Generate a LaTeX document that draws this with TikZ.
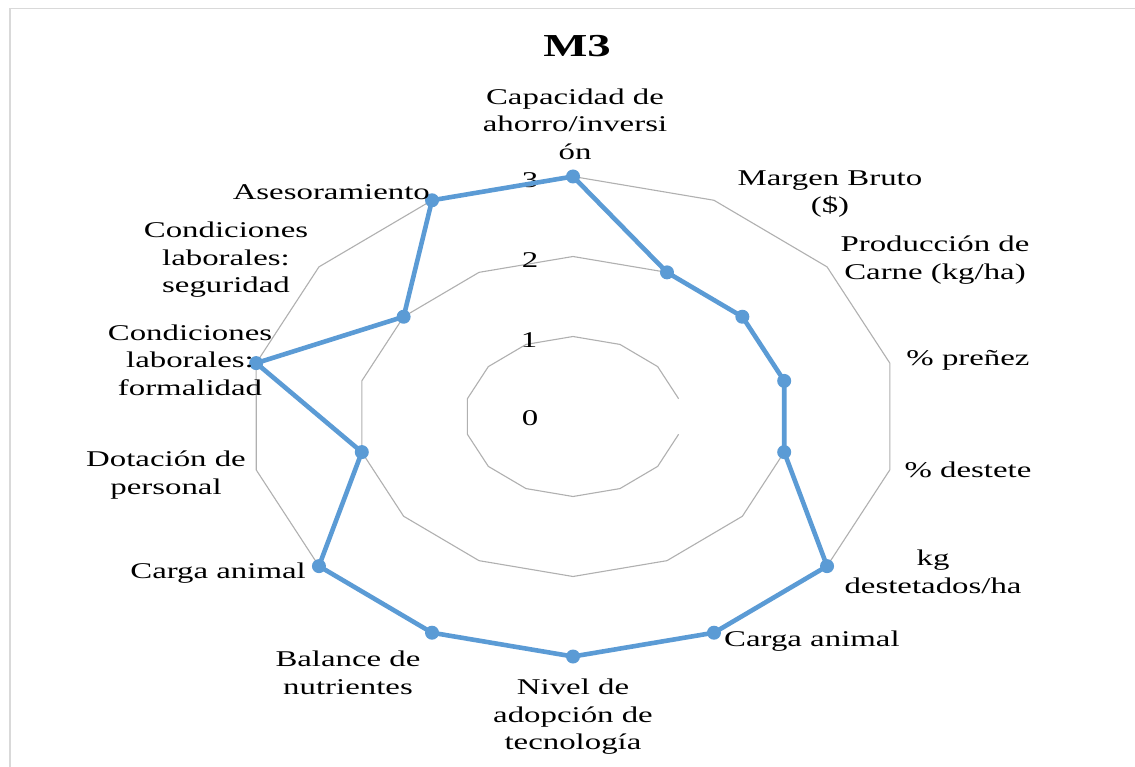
\documentclass[tikz,border=0pt]{standalone}
\usepackage{fontspec}
\setmainfont{Liberation Serif}[FakeStretch=1.46]
\definecolor{blueS}{HTML}{5B9BD5}
\definecolor{frameC}{HTML}{D9D9D9}
\definecolor{gridC}{HTML}{B0B0B0}
\begin{document}
\begin{tikzpicture}[x=1pt,y=-1pt,
  lbl/.style={font=\fontsize{22.5}{27.5}\selectfont, align=center, inner sep=0pt, text=black},
  ttl/.style={font=\fontsize{32}{36}\selectfont\bfseries, inner sep=0pt},
  gridline/.style={draw=gridC, line width=1.1pt, line join=round},
  series/.style={draw=blueS, line width=4.6pt, line join=round},
  dot/.style={circle, fill=blueS, inner sep=0pt, minimum size=14pt},
  framel/.style={draw=frameC, line width=1.6pt}]
\useasboundingbox (0,0) rectangle (1135,767);
\fill[white] (0,0) rectangle (1135,767);
\draw[framel] (10,767) -- (10,8.5) -- (1135,8.5);
\def\cx{573}\def\cy{416.5}\def\sx{1.354}
% grid rings
\draw[gridline] plot[samples at={4,...,17}, variable=\t]
  ({\cx+\sx*80*sin(\t*360/14)},{\cy-80*cos(\t*360/14)});
\foreach \r in {2,3}{
  \draw[gridline] plot[samples at={0,...,13}, variable=\t]
    ({\cx+\sx*80*\r*sin(\t*360/14)},{\cy-80*\r*cos(\t*360/14)}) -- cycle;
}
% tick labels
\node[lbl] (t3) at (530,180) {3};
\node[lbl] (t2) at (530,260) {2};
\node[lbl] (t1) at (529,340) {1};
\node[lbl] (t0) at (530,418) {0};
% data
\foreach \v [count=\k from 0] in {3,2,2,2,2,3,3,3,3,3,2,3,2,3}{
  \coordinate (p\k) at ({\cx+\sx*80*\v*sin(\k*360/14)},{\cy-80*\v*cos(\k*360/14)});
}
\draw[series] (p0) -- (p1) -- (p2) -- (p3) -- (p4) -- (p5) -- (p6) -- (p7)
  -- (p8) -- (p9) -- (p10) -- (p11) -- (p12) -- (p13) -- cycle;
\foreach \k in {0,...,13}{ \node[dot] (d\k) at (p\k) {}; }
% title
\node[ttl] (title) at (577,46) {M3};
% axis labels
\node[lbl] (l0) at (575,124) {Capacidad de\\ahorro/inversi\\ón};
\node[lbl] (l1) at (830,194) {Margen Bruto\\(\$)};
\node[lbl] (l2) at (935,260) {Producción de\\Carne (kg/ha)};
\node[lbl] (l3) at (968,360) {\% preñez};
\node[lbl] (l4) at (968,470) {\% destete};
\node[lbl] (l5) at (933,572) {kg\\destetados/ha};
\node[lbl, anchor=west] (l6) at (724,641) {Carga animal};
\node[lbl] (l7) at (573,717) {Nivel de\\adopción de\\tecnología};
\node[lbl] (l8) at (348,673) {Balance de\\nutrientes};
\node[lbl, anchor=east] (l9) at (306,573) {Carga animal};
\node[lbl] (l10) at (166,475) {Dotación de\\personal};
\node[lbl] (l11) at (190,360) {Condiciones\\laborales:\\formalidad};
\node[lbl] (l12) at (226,260) {Condiciones\\laborales:\\seguridad};
\node[lbl, anchor=east] (l13) at (430,192) {Asesoramiento};
\end{tikzpicture}
\end{document}
